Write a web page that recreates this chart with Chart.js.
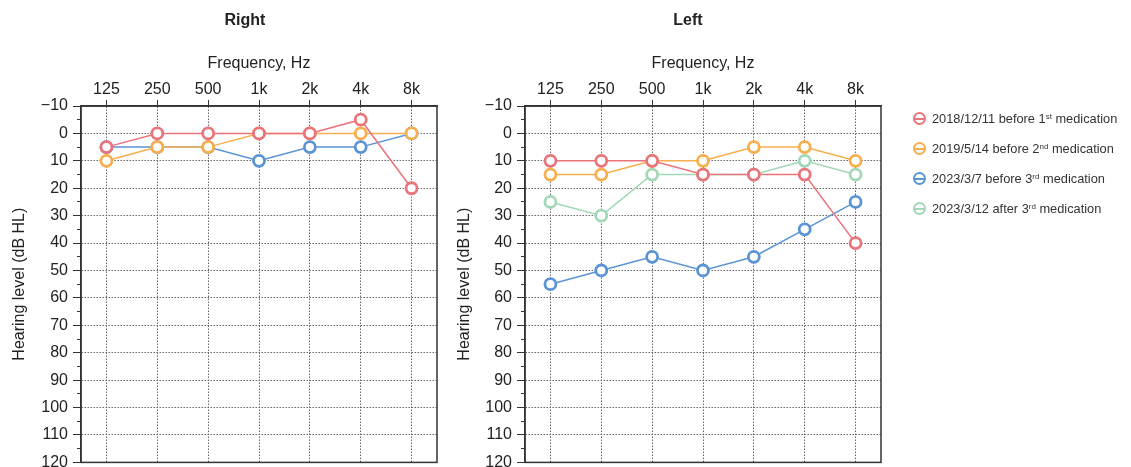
<!DOCTYPE html>
<html>
<head>
<meta charset="utf-8">
<script src="https://cdn.jsdelivr.net/npm/chart.js@4"></script>
<style>
  body { margin: 0; background: #fff; font-family: "Liberation Sans", Arial, sans-serif; }
  #wrap { position: relative; width: 1131px; height: 467px; overflow: hidden; }
  #rightBox { position: absolute; left: 0; top: 0; }
  #leftBox { position: absolute; left: 445px; top: 0; }
  #legend { position: absolute; left: 912px; top: 110px; font-size: 12.8px; color: #333; }
  .item { position: absolute; left: 0; white-space: nowrap; height: 18px; line-height: 18px; }
  .mark { position: absolute; left: 1px; top: 2px; width: 9px; height: 9px; border: 2.8px solid; border-radius: 50%; }
  .mark::after { content: ""; position: absolute; left: 0; right: 0; top: 3.5px; height: 2px; background: currentColor; }
  .txt { position: absolute; left: 20px; top: 0; }
  sup { font-size: 8px; line-height: 0; vertical-align: 4px; }
</style>
</head>
<body>
<div id="wrap">
  <div id="rightBox"><canvas id="rightChart" width="490" height="477"></canvas></div>
  <div id="leftBox"><canvas id="leftChart" width="486" height="477"></canvas></div>
  <div id="legend"></div>
</div>
<script>
// frequencies on the top axis
const frequencies = ['125', '250', '500', '1k', '2k', '4k', '8k'];

// series labels (legend) and colours
const seriesLabels = [
    '2018/12/11 before 1<sup>st</sup> medication',
    '2019/5/14 before 2<sup>nd</sup> medication',
    '2023/3/7 before 3<sup>rd</sup> medication',
    '2023/3/12 after 3<sup>rd</sup> medication'
];
const seriesColors = ['#ea747b', '#f7ae4d', '#5b94d4', '#a2d8b6'];

// right ear, dB HL
const right2018 = [5, 0, 0, 0, 0, -5, 20];
const right2019 = [10, 5, 5, 0, 0, 0, 0];
const right2023a = [5, 5, 5, 10, 5, 5, 0];

// left ear, dB HL
const left2018 = [10, 10, 10, 15, 15, 15, 40];
const left2019 = [15, 15, 10, 10, 5, 5, 10];
const left2023a = [55, 50, 45, 50, 45, 35, 25];
const left2023b = [25, 30, 15, 15, 15, 10, 15];

const fontFamily = '"Liberation Sans", Arial, sans-serif';
const ink = '#222';

function makeDataset(idx, values) {
    return {
        label: seriesLabels[idx].replace(/<[^>]+>/g, ''),
        data: values,
        borderColor: seriesColors[idx],
        borderWidth: 1.5,
        pointRadius: 5.5,
        pointHoverRadius: 5.5,
        pointBorderWidth: 2.8,
        pointBorderColor: seriesColors[idx],
        pointBackgroundColor: '#fff',
        fill: false,
        tension: 0
    };
}

// outline the whole plot area
const framePlugin = {
    id: 'frame',
    beforeDatasetsDraw(chart) {
        const a = chart.chartArea;
        const c = chart.ctx;
        c.save();
        c.strokeStyle = '#333';
        c.lineWidth = 1.5;
        c.strokeRect(a.left, a.top, a.right - a.left, a.bottom - a.top);
        c.restore();
    }
};

// yWidth = plot left edge, spacer = empty room right of the plot (keeps the title centred on the canvas)
function makeConfig(title, datasets, yWidth, spacer) {
    return {
        type: 'line',
        data: { labels: frequencies, datasets: datasets },
        plugins: [framePlugin],
        options: {
            responsive: false,
            animation: false,
            layout: { padding: { left: 0, right: 0, top: 0, bottom: 5 } },
            plugins: {
                legend: { display: false },
                tooltip: { enabled: false },
                title: {
                    display: true,
                    text: title,
                    color: ink,
                    font: { family: fontFamily, size: 16, weight: 'bold' },
                    padding: { top: 11, bottom: 8 }
                }
            },
            scales: {
                x: {
                    type: 'category',
                    position: 'top',
                    offset: true,
                    afterFit: function(scale) { scale.height = 67.8; },
                    title: {
                        display: true,
                        text: 'Frequency, Hz',
                        color: ink,
                        font: { family: fontFamily, size: 16 },
                        padding: { top: 16, bottom: 0 }
                    },
                    ticks: { color: ink, font: { family: fontFamily, size: 16 }, padding: 1, autoSkip: false, maxRotation: 0 },
                    grid: { color: '#666', lineWidth: 1, tickLength: 6, tickColor: '#333', offset: false },
                    border: { display: true, color: '#333', width: 1.5, dash: [1.5, 1.5] }
                },
                y: {
                    type: 'linear',
                    position: 'left',
                    weight: 1,
                    reverse: true,
                    min: -10,
                    max: 120,
                    afterFit: function(scale) { scale.width = yWidth; },
                    title: {
                        display: true,
                        text: 'Hearing level (dB HL)',
                        color: ink,
                        font: { family: fontFamily, size: 16 },
                        padding: { top: 10.4, bottom: 0 }
                    },
                    ticks: {
                        stepSize: 10,
                        color: ink,
                        font: { family: fontFamily, size: 16 },
                        padding: 5,
                        autoSkip: false,
                        callback: function(v) { return v < 0 ? '\u2212' + Math.abs(v) : String(v); }
                    },
                    grid: { color: '#666', lineWidth: 1, tickLength: 8, tickColor: '#333' },
                    border: { display: true, color: '#333', width: 1.5, dash: [1.5, 1.5] }
                },
                yMinor: {
                    type: 'linear',
                    position: 'left',
                    weight: 0,
                    reverse: true,
                    min: -10,
                    max: 120,
                    afterFit: function(scale) { scale.width = 0; },
                    ticks: { display: false, stepSize: 5 },
                    grid: { drawOnChartArea: false, drawTicks: true, tickLength: 4, tickColor: '#333' },
                    border: { display: false }
                },
                spacer: {
                    type: 'linear',
                    position: 'right',
                    min: -10,
                    max: 120,
                    afterFit: function(scale) { scale.width = spacer; },
                    ticks: { display: false },
                    grid: { display: false, drawTicks: false },
                    border: { display: false }
                }
            }
        }
    };
}

new Chart(document.getElementById('rightChart').getContext('2d'), makeConfig('Right', [
    makeDataset(0, right2018),
    makeDataset(1, right2019),
    makeDataset(2, right2023a)
], 81, 53));

new Chart(document.getElementById('leftChart').getContext('2d'), makeConfig('Left', [
    makeDataset(0, left2018),
    makeDataset(1, left2019),
    makeDataset(2, left2023a),
    makeDataset(3, left2023b)
], 80, 50));

// legend
const legendEl = document.getElementById('legend');
seriesLabels.forEach(function(label, i) {
    const item = document.createElement('div');
    item.className = 'item';
    item.style.top = (i * 30) + 'px';
    item.innerHTML = '<span class="mark" style="color:' + seriesColors[i] + ';border-color:' + seriesColors[i] + '"></span>' +
        '<span class="txt">' + label + '</span>';
    legendEl.appendChild(item);
});
</script>
</body>
</html>
